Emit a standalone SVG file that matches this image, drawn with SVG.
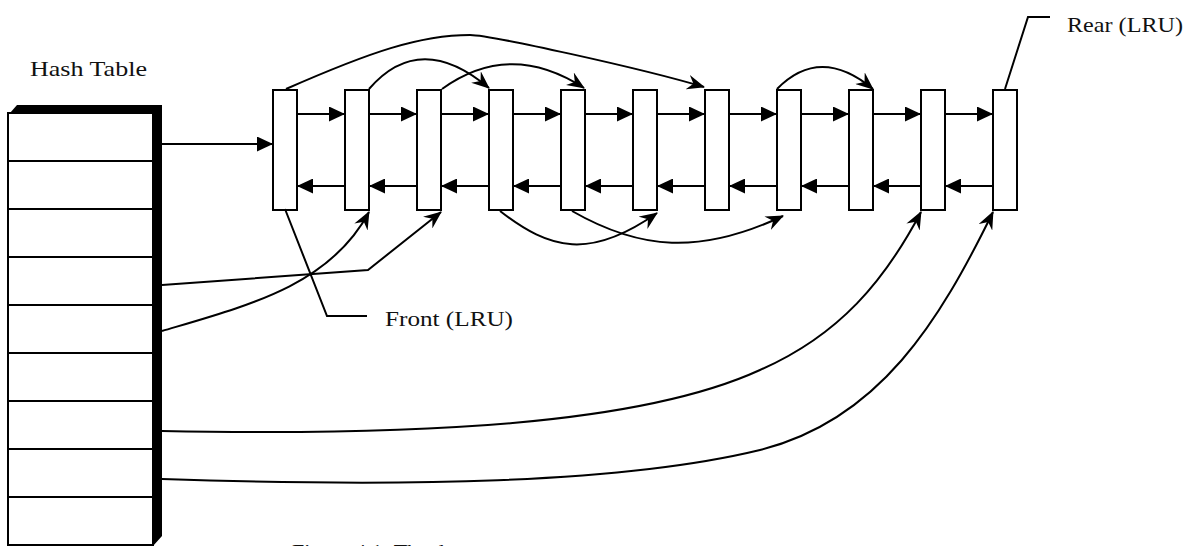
<svg xmlns="http://www.w3.org/2000/svg" width="1200" height="546" viewBox="0 0 1200 546">
  <style>
    .box { fill: #fff; stroke: #000; stroke-width: 2; }
    .ln { fill: none; stroke: #000; stroke-width: 2; }
    .fw { marker-end: url(#tri); }
    .bw { marker-start: url(#triStart); }
    .cv { fill: none; stroke: #000; stroke-width: 2; marker-end: url(#barb); }
    .lbl { font-family: "Liberation Serif", "Times New Roman", serif; font-size: 22px; fill: #111; }
  </style>
  <defs>
    <marker id="tri" viewBox="0 0 16 15" refX="16" refY="7.5" markerWidth="16" markerHeight="15" markerUnits="userSpaceOnUse" orient="auto">
      <path d="M0,0 L16,7.5 L0,15 z" fill="#000"/>
    </marker>
    <marker id="triStart" viewBox="0 0 16 15" refX="0" refY="7.5" markerWidth="16" markerHeight="15" markerUnits="userSpaceOnUse" orient="auto">
      <path d="M16,0 L0,7.5 L16,15 z" fill="#000"/>
    </marker>
    <marker id="barb" viewBox="0 0 18 15" refX="17" refY="7.5" markerWidth="18" markerHeight="15" markerUnits="userSpaceOnUse" orient="auto">
      <path d="M0,0 L18,7.5 L0,15 L6,7.5 z" fill="#000"/>
    </marker>
  </defs>

  <rect width="1200" height="546" fill="#fff"/>

  <!-- hash table with raised shadow -->
  <g id="hash-table">
    <text class="lbl" x="30" y="76" textLength="117" lengthAdjust="spacingAndGlyphs">Hash Table</text>
    <polygon points="10,113 17,105 162,105 162,536 153,546 153,113" fill="#000"/>
    <rect class="box" x="8" y="113" width="145" height="432"/>
    <path class="ln" d="M8,161 H153 M8,209 H153 M8,257 H153 M8,305 H153 M8,353 H153 M8,401 H153 M8,449 H153 M8,497 H153"/>
  </g>

  <!-- list nodes -->
  <g id="node-1"><rect class="box" x="273" y="90" width="24" height="120"/></g>
  <g id="node-2"><rect class="box" x="345" y="90" width="24" height="120"/></g>
  <g id="node-3"><rect class="box" x="417" y="90" width="24" height="120"/></g>
  <g id="node-4"><rect class="box" x="489" y="90" width="24" height="120"/></g>
  <g id="node-5"><rect class="box" x="561" y="90" width="24" height="120"/></g>
  <g id="node-6"><rect class="box" x="633" y="90" width="24" height="120"/></g>
  <g id="node-7"><rect class="box" x="705" y="90" width="24" height="120"/></g>
  <g id="node-8"><rect class="box" x="777" y="90" width="24" height="120"/></g>
  <g id="node-9"><rect class="box" x="849" y="90" width="24" height="120"/></g>
  <g id="node-10"><rect class="box" x="921" y="90" width="24" height="120"/></g>
  <g id="node-11"><rect class="box" x="993" y="90" width="24" height="120"/></g>

  <!-- labels -->
  <g id="front-label">
    <polyline class="ln" points="285,209 327,316 367,316"/>
    <text class="lbl" x="385" y="326" textLength="128" lengthAdjust="spacingAndGlyphs">Front (LRU)</text>
  </g>
  <g id="rear-label">
    <polyline class="ln" points="1005,89 1028,17 1050,17"/>
    <text class="lbl" x="1067" y="32" textLength="116" lengthAdjust="spacingAndGlyphs">Rear (LRU)</text>
  </g>

  <g id="connectors">
    <!-- next pointers -->
    <line class="ln fw" x1="297" y1="114" x2="345" y2="114"/>
    <line class="ln fw" x1="369" y1="114" x2="417" y2="114"/>
    <line class="ln fw" x1="441" y1="114" x2="489" y2="114"/>
    <line class="ln fw" x1="513" y1="114" x2="561" y2="114"/>
    <line class="ln fw" x1="585" y1="114" x2="633" y2="114"/>
    <line class="ln fw" x1="657" y1="114" x2="705" y2="114"/>
    <line class="ln fw" x1="729" y1="114" x2="777" y2="114"/>
    <line class="ln fw" x1="801" y1="114" x2="849" y2="114"/>
    <line class="ln fw" x1="873" y1="114" x2="921" y2="114"/>
    <line class="ln fw" x1="945" y1="114" x2="993" y2="114"/>
    <!-- prev pointers -->
    <line class="ln bw" x1="297" y1="186" x2="345" y2="186"/>
    <line class="ln bw" x1="369" y1="186" x2="417" y2="186"/>
    <line class="ln bw" x1="441" y1="186" x2="489" y2="186"/>
    <line class="ln bw" x1="513" y1="186" x2="561" y2="186"/>
    <line class="ln bw" x1="585" y1="186" x2="633" y2="186"/>
    <line class="ln bw" x1="657" y1="186" x2="705" y2="186"/>
    <line class="ln bw" x1="729" y1="186" x2="777" y2="186"/>
    <line class="ln bw" x1="801" y1="186" x2="849" y2="186"/>
    <line class="ln bw" x1="873" y1="186" x2="921" y2="186"/>
    <line class="ln bw" x1="945" y1="186" x2="993" y2="186"/>

    <!-- hash bucket to head -->
    <line class="ln fw" x1="162" y1="144" x2="273" y2="144"/>

    <!-- chain links over the top -->
    <path class="cv" d="M286,89 C370,52 420,35 470,35 C490,35 640,68 704,87"/>
    <path class="cv" d="M369,89 Q420,30 489,88"/>
    <path class="cv" d="M442,89 Q510,40 584,88"/>
    <path class="cv" d="M777,89 Q820,45 873,89"/>

    <!-- chain links underneath -->
    <path class="cv" d="M500,211 C550,250 590,260 657,213"/>
    <path class="cv" d="M572,211 C640,250 700,255 783,216"/>

    <!-- hash buckets to list entries -->
    <path class="cv" d="M162,285 L368,270 L441,212"/>
    <path class="cv" d="M162,331 C250,305 330,285 369,212"/>
    <path class="cv" d="M162,431 C420,436 640,425 760,370 C840,335 885,280 921,212"/>
    <path class="cv" d="M162,479 C400,487 620,484 760,450 C880,420 940,320 993,212"/>
  </g>

  <text class="lbl" x="292" y="559" font-size="23">Figure 4.1: The data structure</text>
</svg>
